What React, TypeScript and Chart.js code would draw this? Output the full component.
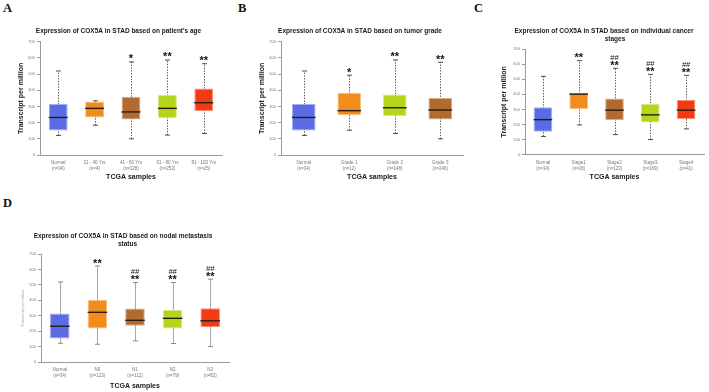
import { useEffect, useRef } from "react";
import { Chart, registerables } from "chart.js";

Chart.register(...registerables);

const FONT = "'Liberation Sans', Arial, Helvetica, sans-serif";

// Box fills used across panels
const BLUE = "#5a6be6";
const ORANGE = "#f18d1d";
const BROWN = "#b26b2e";
const LIME = "#b5d51b";
const RED = "#f23b12";

// ---------- A: patient's age ----------
const ageGroups = ["Normal", "21 - 40 Yrs", "41 - 60 Yrs", "61 - 80 Yrs", "81 - 100 Yrs"];
const ageCounts = [34, 4, 128, 253, 25];
const ageLow = [121, 184, 100, 123, 133];
const ageQ1 = [152, 232, 220, 227, 270];
const ageMedian = [232, 288, 266, 288, 323];
const ageQ3 = [315, 330, 360, 370, 411];
const ageHigh = [519, 335, 575, 587, 564];
const ageStars = ["", "", "*", "**", "**"];
const ageHashes = ["", "", "", "", ""];
const ageColors = [BLUE, ORANGE, BROWN, LIME, RED];

// ---------- B: tumor grade ----------
const gradeGroups = ["Normal", "Grade 1", "Grade 2", "Grade 3"];
const gradeCounts = [34, 12, 148, 246];
const gradeLow = [121, 153, 133, 100];
const gradeQ1 = [152, 245, 241, 219];
const gradeMedian = [232, 274, 292, 278];
const gradeQ3 = [315, 384, 374, 352];
const gradeHigh = [519, 493, 587, 573];
const gradeStars = ["", "*", "**", "**"];
const gradeHashes = ["", "", "", ""];
const gradeColors = [BLUE, ORANGE, LIME, BROWN];

// ---------- C: individual cancer stages ----------
const stageGroups = ["Normal", "Stage1", "Stage2", "Stage3", "Stage4"];
const stageCounts = [34, 18, 123, 169, 41];
const stageLow = [121, 197, 133, 100, 171];
const stageQ1 = [152, 301, 230, 213, 237];
const stageMedian = [232, 401, 295, 264, 295];
const stageQ3 = [315, 410, 372, 335, 363];
const stageHigh = [519, 623, 572, 532, 525];
const stageStars = ["", "**", "**", "**", "**"];
const stageHashes = ["", "", "##", "##", "##"];
const stageColors = [BLUE, ORANGE, BROWN, LIME, RED];

// ---------- D: nodal metastasis status ----------
const nodalGroups = ["Normal", "N0", "N1", "N2", "N3"];
const nodalCounts = [34, 123, 112, 79, 82];
const nodalLow = [121, 115, 137, 120, 100];
const nodalQ1 = [152, 217, 235, 217, 226];
const nodalMedian = [232, 322, 270, 283, 267];
const nodalQ3 = [315, 404, 346, 337, 348];
const nodalHigh = [519, 622, 515, 515, 537];
const nodalStars = ["", "**", "**", "**", "**"];
const nodalHashes = ["", "", "##", "##", "##"];
const nodalColors = [BLUE, ORANGE, BROWN, LIME, RED];

interface PanelData {
  groups: string[];
  counts: number[];
  low: number[];
  q1: number[];
  median: number[];
  q3: number[];
  high: number[];
  stars: string[];
  hashes: string[];
  colors: string[];
}

interface PanelFrame {
  canvas: { x: number; y: number; w: number; h: number };
  plot: { left: number; right: number; top: number; bottom: number };
  title: { text: string; x: number; y: number }[];
  yTitleX: number;
  labelY: number;
  xTitleY: number;
  faint?: boolean;
}

const panels: { letter: string; lx: number; ly: number; data: PanelData; frame: PanelFrame }[] = [
  {
    letter: "A", lx: 3, ly: 1.5,
    data: { groups: ageGroups, counts: ageCounts, low: ageLow, q1: ageQ1, median: ageMedian, q3: ageQ3, high: ageHigh, stars: ageStars, hashes: ageHashes, colors: ageColors },
    frame: {
      canvas: { x: 0, y: 18, w: 235, h: 172 },
      plot: { left: 40, right: 222, top: 41.7, bottom: 155 },
      title: [{ text: "Expression of COX5A in STAD based on patient's age", x: 118.5, y: 31.7 }],
      yTitleX: 20.7, labelY: 162.7, xTitleY: 177.3,
    },
  },
  {
    letter: "B", lx: 238, ly: 1.5,
    data: { groups: gradeGroups, counts: gradeCounts, low: gradeLow, q1: gradeQ1, median: gradeMedian, q3: gradeQ3, high: gradeHigh, stars: gradeStars, hashes: gradeHashes, colors: gradeColors },
    frame: {
      canvas: { x: 236, y: 18, w: 232, h: 172 },
      plot: { left: 281, right: 463, top: 41.7, bottom: 155 },
      title: [{ text: "Expression of COX5A in STAD based on tumor grade", x: 360, y: 31.7 }],
      yTitleX: 261.7, labelY: 162.7, xTitleY: 177.3,
    },
  },
  {
    letter: "C", lx: 474, ly: 1.5,
    data: { groups: stageGroups, counts: stageCounts, low: stageLow, q1: stageQ1, median: stageMedian, q3: stageQ3, high: stageHigh, stars: stageStars, hashes: stageHashes, colors: stageColors },
    frame: {
      canvas: { x: 470, y: 18, w: 239, h: 172 },
      plot: { left: 525, right: 704, top: 49, bottom: 154.7 },
      title: [
        { text: "Expression of COX5A in STAD based on individual cancer", x: 604, y: 31.7 },
        { text: "stages", x: 615, y: 39.3 },
      ],
      yTitleX: 504, labelY: 162.7, xTitleY: 177.3,
    },
  },
  {
    letter: "D", lx: 3, ly: 196.5,
    data: { groups: nodalGroups, counts: nodalCounts, low: nodalLow, q1: nodalQ1, median: nodalMedian, q3: nodalQ3, high: nodalHigh, stars: nodalStars, hashes: nodalHashes, colors: nodalColors },
    frame: {
      canvas: { x: 0, y: 225, w: 240, h: 167 },
      plot: { left: 41, right: 229, top: 254, bottom: 362 },
      title: [
        { text: "Expression of COX5A in STAD based on nodal metastasis", x: 123, y: 236.7 },
        { text: "status", x: 127.5, y: 244.3 },
      ],
      yTitleX: 22.7, labelY: 369.7, xTitleY: 385.7, faint: true,
    },
  },
];

function lighten(hex: string, amt: number) {
  const n = parseInt(hex.slice(1), 16);
  const r = (n >> 16) & 255, g = (n >> 8) & 255, b = n & 255;
  const f = (c: number) => Math.round(c + (255 - c) * amt);
  return `rgb(${f(r)},${f(g)},${f(b)})`;
}

// Whiskers, medians, significance marks and the panel title
function makeBoxPlugin(d: PanelData, f: PanelFrame) {
  return {
    id: "boxWhiskers",
    beforeDatasetsDraw(chart: any) {
      const { ctx, scales } = chart;
      const x = scales.x, y = scales.y;
      ctx.save();
      d.low.forEach((lo, i) => {
        const px = Math.round(x.getPixelForValue(i)) + 0.5;
        const yLo = y.getPixelForValue(lo);
        const yHi = y.getPixelForValue(d.high[i]);
        ctx.lineWidth = 1;
        ctx.strokeStyle = f.faint ? "#a8a8a8" : "#5a5a5a";
        ctx.setLineDash(f.faint ? [] : [1.4, 1.4]);
        ctx.beginPath();
        ctx.moveTo(px, yLo);
        ctx.lineTo(px, yHi);
        ctx.stroke();
        ctx.setLineDash([]);
        ctx.strokeStyle = f.faint ? "#8a8a8a" : "#4a4a4a";
        ctx.beginPath();
        ctx.moveTo(px - 2.5, yLo);
        ctx.lineTo(px + 2.5, yLo);
        ctx.moveTo(px - 2.5, yHi);
        ctx.lineTo(px + 2.5, yHi);
        ctx.stroke();
      });
      ctx.restore();
    },
    afterDatasetsDraw(chart: any) {
      const { ctx, scales } = chart;
      const x = scales.x, y = scales.y;
      const bars = chart.getDatasetMeta(0).data;
      ctx.save();
      d.median.forEach((m, i) => {
        const px = x.getPixelForValue(i);
        const w = bars[i].width;
        const py = y.getPixelForValue(m);
        ctx.strokeStyle = "#2a1c10";
        ctx.lineWidth = 1.4;
        ctx.beginPath();
        ctx.moveTo(px - w / 2, py);
        ctx.lineTo(px + w / 2, py);
        ctx.stroke();
      });
      ctx.fillStyle = "#111";
      ctx.textAlign = "center";
      ctx.textBaseline = "alphabetic";
      d.stars.forEach((s, i) => {
        const px = x.getPixelForValue(i);
        const yHi = y.getPixelForValue(d.high[i]);
        if (s) {
          ctx.font = `bold 11px ${FONT}`;
          ctx.fillText(s, px, yHi + 0.5);
        }
        if (d.hashes[i]) {
          ctx.font = `${f.faint ? "italic " : ""}7.5px ${FONT}`;
          ctx.fillText(d.hashes[i], px, yHi - 8.5);
        }
      });
      ctx.restore();
    },
    afterDraw(chart: any) {
      const { ctx } = chart;
      ctx.save();
      ctx.fillStyle = "#1a1a1a";
      ctx.font = `bold 6.5px ${FONT}`;
      ctx.textAlign = "center";
      ctx.textBaseline = "middle";
      f.title.forEach((t) => ctx.fillText(t.text, t.x - f.canvas.x, t.y - f.canvas.y));
      ctx.restore();
    },
  };
}

function BoxPanel({ data, frame }: { data: PanelData; frame: PanelFrame }) {
  const ref = useRef<HTMLCanvasElement>(null);
  const c = frame.canvas;
  useEffect(() => {
    const plot = frame.plot;
    const yTitleSize = frame.faint ? 4 : 7;
    const yTitleLH = yTitleSize * 1.2;
    const padLeft = frame.yTitleX - yTitleLH / 2 - c.x;
    const padRight = c.x + c.w - plot.right;
    const padTop = plot.top - c.y;
    const xTitleLH = 7 * 1.2;
    const xBottom = frame.xTitleY + xTitleLH / 2;
    const padBottom = c.y + c.h - xBottom;
    const labelSize = 4.5;
    const labelLH = 1.3;
    const tickPad = frame.labelY - plot.bottom - (labelSize * labelLH) / 2;
    const axisColor = "#9a9a9a";

    const chart = new Chart(ref.current as HTMLCanvasElement, {
      type: "bar",
      data: {
        labels: data.groups.map((g, i) => [g, `(n=${data.counts[i]})`]),
        datasets: [
          {
            data: data.q1.map((v, i) => [v, data.q3[i]]) as any,
            backgroundColor: data.colors,
            borderColor: data.colors.map((col) => lighten(col, 0.45)),
            borderWidth: 1,
            borderSkipped: false,
            barPercentage: 0.52,
            categoryPercentage: 1,
          },
        ],
      },
      options: {
        responsive: false,
        animation: false,
        devicePixelRatio: 1,
        layout: { padding: { left: padLeft, right: padRight, top: padTop, bottom: padBottom } },
        plugins: { legend: { display: false }, tooltip: { enabled: false }, title: { display: false } },
        scales: {
          x: {
            grid: { display: false, drawTicks: false, tickLength: 0 },
            border: { display: true, color: axisColor },
            ticks: {
              font: { family: FONT, size: labelSize, lineHeight: labelLH },
              color: "#777",
              padding: tickPad,
              maxRotation: 0,
              minRotation: 0,
              autoSkip: false,
            },
            title: {
              display: true,
              text: "TCGA samples",
              font: { family: FONT, size: 7, weight: "bold", lineHeight: 1.2 },
              color: "#1a1a1a",
              padding: 0,
            },
            afterFit: (s: any) => {
              s.height = xBottom - plot.bottom;
            },
          },
          y: {
            min: 0,
            max: 700,
            ticks: { stepSize: 100, font: { family: FONT, size: 4 }, color: "#777", padding: 2 },
            grid: { display: true, drawOnChartArea: false, drawTicks: true, tickLength: 3, color: axisColor },
            border: { display: true, color: axisColor },
            title: {
              display: true,
              text: "Transcript per million",
              font: { family: FONT, size: yTitleSize, weight: frame.faint ? "normal" : "bold", lineHeight: 1.2 },
              color: frame.faint ? "#9a9a9a" : "#1a1a1a",
              padding: 0,
            },
            afterFit: (s: any) => {
              s.width = plot.left - (c.x + padLeft);
            },
          },
        },
      } as any,
      plugins: [makeBoxPlugin(data, frame)],
    });
    return () => chart.destroy();
  }, []);
  return (
    <canvas
      ref={ref}
      width={c.w}
      height={c.h}
      style={{ position: "absolute", left: c.x, top: c.y, width: c.w, height: c.h }}
    />
  );
}

export default function App() {
  return (
    <div style={{ position: "fixed", left: 0, top: 0, width: 709, height: 392, background: "#fff", overflow: "hidden" }}>
      {panels.map((p) => (
        <div key={p.letter}>
          <div
            style={{
              position: "absolute",
              left: p.lx,
              top: p.ly,
              font: "bold 12.5px 'Liberation Serif', 'Times New Roman', serif",
              lineHeight: 1,
              color: "#111",
            }}
          >
            {p.letter}
          </div>
          <BoxPanel data={p.data} frame={p.frame} />
        </div>
      ))}
    </div>
  );
}
